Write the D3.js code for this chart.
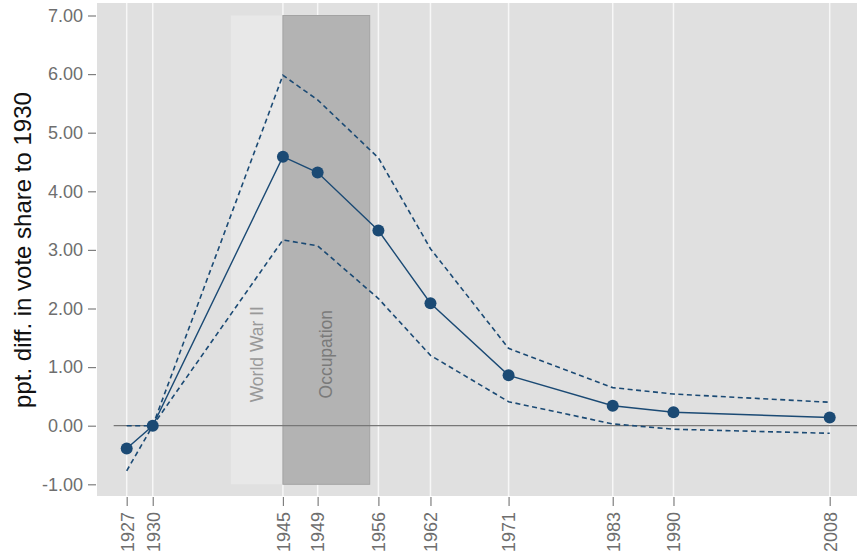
<!DOCTYPE html>
<html>
<head>
<meta charset="utf-8">
<script src="https://cdn.jsdelivr.net/npm/d3@7/dist/d3.min.js"></script>
<style>
  html, body { margin: 0; padding: 0; background: #ffffff; }
  svg { display: block; font-family: "Liberation Sans", Arial, sans-serif; }
</style>
</head>
<body>
<svg id="chart" width="857" height="553"></svg>
<script>
// Election years and estimated change in vote share relative to 1930
const years    = [1927, 1930, 1945, 1949, 1956, 1962, 1971, 1983, 1990, 2008];
const estimate = [-0.39, 0.00, 4.59, 4.32, 3.33, 2.09, 0.86, 0.34, 0.23, 0.14];
const ciUpper  = [0.00, 0.00, 5.98, 5.56, 4.57, 3.02, 1.32, 0.65, 0.54, 0.40];
const ciLower  = [-0.77, 0.00, 3.17, 3.07, 2.17, 1.20, 0.41, 0.03, -0.06, -0.13];
const yTicks   = [-1, 0, 1, 2, 3, 4, 5, 6, 7];

// Shaded historical periods
const periods = [
  { label: "World War II", start: 1939, end: 1945, fill: "#e8e8e8", stroke: "none",    text: "#999999" },
  { label: "Occupation",   start: 1945, end: 1955, fill: "#b3b3b3", stroke: "#a3a3a3", text: "#7a7a7a" }
];

const W = 857, H = 553;
const panel = { left: 97, top: 3, right: 857, bottom: 496 };
const navy = "#1b4a74";

const svg = d3.select("#chart");

const x = d3.scaleLinear().domain([1927, 2008]).range([126.7, 829.7]);
const y = d3.scaleLinear().domain([-1, 7]).range([484.3, 15.5]);

// Panel background
svg.append("rect")
  .attr("x", panel.left).attr("y", panel.top)
  .attr("width", panel.right - panel.left).attr("height", panel.bottom - panel.top)
  .attr("fill", "#e0e0e0");

// Vertical grid at each election year
svg.append("g").selectAll("line").data(years).join("line")
  .attr("x1", d => x(d)).attr("x2", d => x(d))
  .attr("y1", panel.top).attr("y2", panel.bottom)
  .attr("stroke", "#f7f7f7").attr("stroke-width", 1.5);

// Period bands
const bands = svg.append("g");
bands.selectAll("rect").data(periods).join("rect")
  .attr("x", d => x(d.start))
  .attr("width", d => x(d.end) - x(d.start))
  .attr("y", y(7))
  .attr("height", y(-1) - y(7))
  .attr("fill", d => d.fill)
  .attr("stroke", d => d.stroke)
  .attr("stroke-width", 1);

bands.selectAll("text").data(periods).join("text")
  .attr("transform", d => `translate(${(x(d.start) + x(d.end)) / 2},${y(1.22)}) rotate(-90)`)
  .attr("text-anchor", "middle")
  .attr("dominant-baseline", "central")
  .attr("font-size", 17.5)
  .attr("fill", d => d.text)
  .text(d => d.label);

// Zero reference line
svg.append("line")
  .attr("x1", x(1925.5)).attr("x2", panel.right)
  .attr("y1", y(0)).attr("y2", y(0))
  .attr("stroke", "#777777").attr("stroke-width", 1.3);

// Y axis (plain hyphen for negatives)
const fmtY = v => d3.format(".2f")(v).replace("\u2212", "-");
const yAxis = svg.append("g")
  .attr("transform", `translate(${panel.left - 1},0)`)
  .call(d3.axisLeft(y).tickValues(yTicks).tickFormat(fmtY).tickSize(8).tickPadding(5));
yAxis.select(".domain").remove();
yAxis.selectAll(".tick line").attr("stroke", "#7f7f7f").attr("stroke-width", 1.2);
yAxis.selectAll(".tick text")
  .attr("font-size", 18).attr("fill", "#6e6e6e")
  .attr("font-family", "Liberation Sans, Arial, sans-serif");

// X axis with rotated year labels
const xAxis = svg.append("g")
  .attr("transform", `translate(0,${panel.bottom + 1})`)
  .call(d3.axisBottom(x).tickValues(years).tickFormat(d3.format("d")).tickSize(9).tickPadding(6));
xAxis.select(".domain").remove();
xAxis.selectAll(".tick line").attr("stroke", "#7f7f7f").attr("stroke-width", 1.2);
xAxis.selectAll(".tick text")
  .attr("font-size", 18).attr("fill", "#6e6e6e")
  .attr("font-family", "Liberation Sans, Arial, sans-serif")
  .attr("transform", "rotate(-90)")
  .attr("text-anchor", "end")
  .attr("dy", "0.35em")
  .attr("x", -15)
  .attr("y", 0);

// Axis title
svg.append("text")
  .attr("transform", `translate(22,250) rotate(-90)`)
  .attr("text-anchor", "middle")
  .attr("dominant-baseline", "central")
  .attr("font-size", 24)
  .attr("fill", "#111111")
  .text("ppt. diff. in vote share to 1930");

// Confidence bounds
const line = d3.line().x(d => x(d[0])).y(d => y(d[1]));
[ciUpper, ciLower].forEach(series => {
  svg.append("path")
    .datum(years.map((yr, i) => [yr, series[i]]))
    .attr("d", line)
    .attr("fill", "none")
    .attr("stroke", navy)
    .attr("stroke-width", 1.6)
    .attr("stroke-dasharray", "5,3.5");
});

// Point estimates
const pts = years.map((yr, i) => [yr, estimate[i]]);
svg.append("path")
  .datum(pts)
  .attr("d", line)
  .attr("fill", "none")
  .attr("stroke", navy)
  .attr("stroke-width", 1.4);

svg.append("g").selectAll("circle").data(pts).join("circle")
  .attr("cx", d => x(d[0])).attr("cy", d => y(d[1]))
  .attr("r", 6)
  .attr("fill", navy);
</script>
</body>
</html>
